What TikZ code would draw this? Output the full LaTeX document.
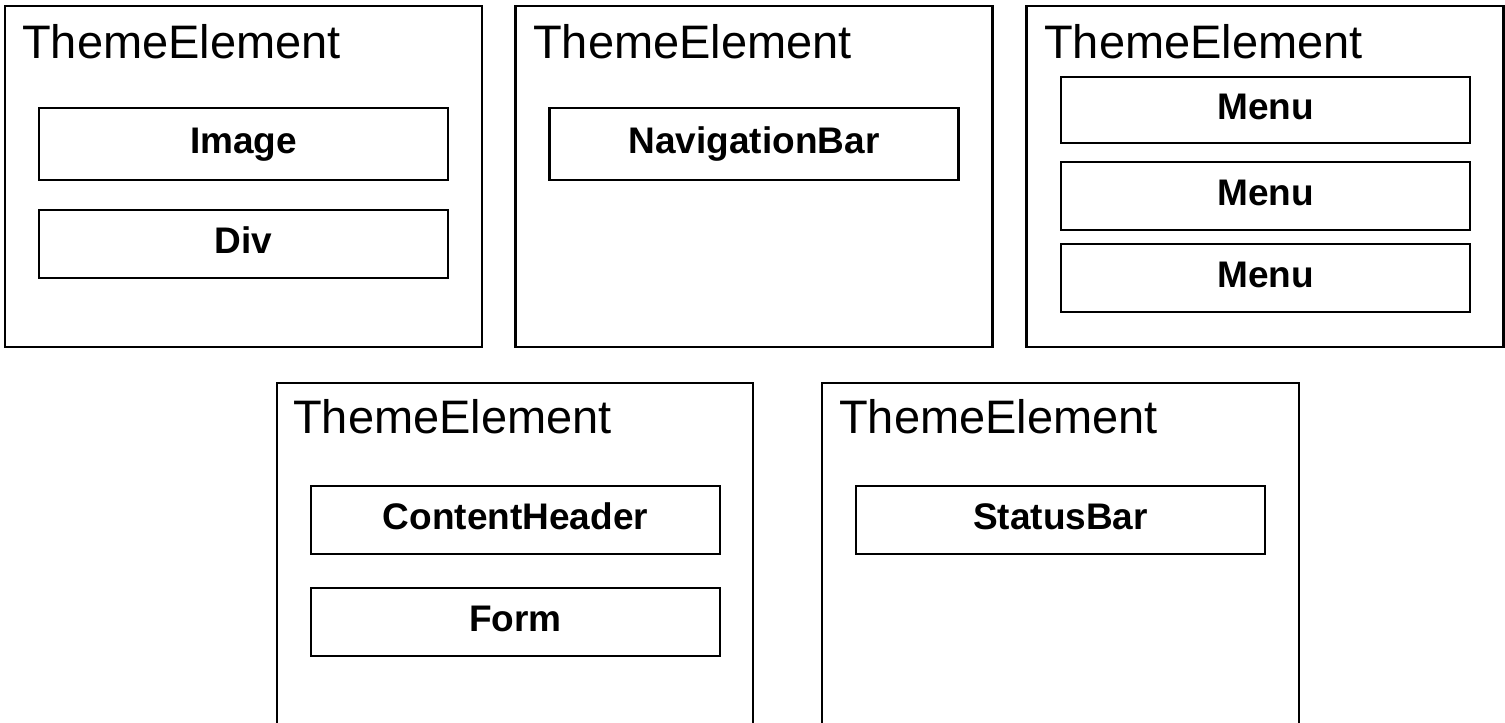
\documentclass[tikz,border=0pt]{standalone}
\usepackage{fontspec}
\setmainfont{Liberation Sans}
\begin{document}
\begin{tikzpicture}[x=1pt,y=-1pt,
  outerbox/.style={draw=black, line width=2.5pt, inner sep=0pt},
  innerbox/.style={draw=black, line width=2.6pt, inner sep=0pt, minimum width=409pt,
    text height=27pt, text depth=9pt, font=\fontsize{37}{40}\selectfont\bfseries},
  titletext/.style={anchor=base west, inner sep=0pt, font=\fontsize{47}{50}\selectfont}]
\useasboundingbox (0,0) rectangle (1505,723);
% top row outer boxes
\node[outerbox, minimum width=477pt, minimum height=341pt] (te1) at (243.5,176.5) {};
\node[outerbox, minimum width=477pt, minimum height=341pt] (te2) at (754,176.5) {};
\node[outerbox, minimum width=477pt, minimum height=341pt] (te3) at (1265,176.5) {};
% bottom row outer boxes (open at bottom)
\coordinate (b4a) at (277,730);
\coordinate (b4b) at (753,383);
\coordinate (b4c) at (753,730);
\draw[line width=2.5pt] (b4a) |- (b4b) -- (b4c);
\coordinate (b5a) at (822,730);
\coordinate (b5b) at (1299,383);
\coordinate (b5c) at (1299,730);
\draw[line width=2.5pt] (b5a) |- (b5b) -- (b5c);
% titles
\node[titletext] (t1) at (22,58) {ThemeElement};
\node[titletext] (t2) at (533,58) {ThemeElement};
\node[titletext] (t3) at (1044,58) {ThemeElement};
\node[titletext] (t4) at (293,433) {ThemeElement};
\node[titletext] (t5) at (839,433) {ThemeElement};
% inner boxes
\node[innerbox, minimum height=72pt] (img) at (243.5,144) {Image};
\node[innerbox, minimum height=68pt] (div) at (243.5,244) {Div};
\node[innerbox, minimum height=72pt] (nav) at (754,144) {NavigationBar};
\node[innerbox, minimum height=66pt] (m1) at (1265.5,110) {Menu};
\node[innerbox, minimum height=68pt] (m2) at (1265.5,196) {Menu};
\node[innerbox, minimum height=68pt] (m3) at (1265.5,278) {Menu};
\node[innerbox, minimum height=68pt] (ch) at (515.5,520) {ContentHeader};
\node[innerbox, minimum height=68pt] (form) at (515.5,622) {Form};
\node[innerbox, minimum height=68pt] (sb) at (1060.5,520) {StatusBar};
\end{tikzpicture}
\end{document}
